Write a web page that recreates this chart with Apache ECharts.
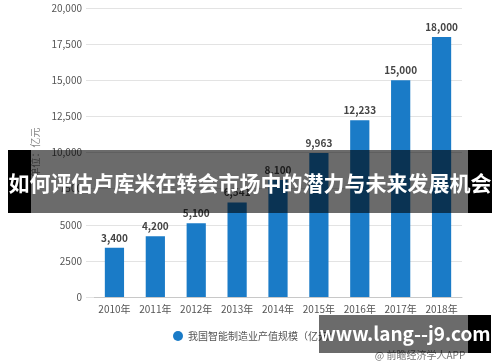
<!DOCTYPE html>
<html><head><meta charset="utf-8">
<script src="https://cdn.jsdelivr.net/npm/echarts@6/dist/echarts.min.js"></script>
<style>html,body{margin:0;padding:0;background:#fff}#c{width:500px;height:362px}</style>
</head><body><div id="c"></div>
<script>
const categories = ['2010年','2011年','2012年','2013年','2014年','2015年','2016年','2017年','2018年'];
const values = [3400, 4200, 5100, 6541, 8100, 9963, 12233, 15000, 18000];
const seriesName = '我国智能制造业产值规模（亿元）';
const yTicks = [0, 2500, 5000, 7500, 10000, 12500, 15000, 17500, 20000];
const overlayTitle = '如何评估卢库米在转会市场中的潜力与未来发展机会';
const overlayUrl = 'www.lang--j9.com';
const sourceText = '@ 前瞻经济学人APP';

const font = '"Noto Sans CJK SC", "Noto Sans", sans-serif';
const chart = echarts.init(document.getElementById('c'));
chart.setOption({
  animation: false,
  textStyle: { fontFamily: font },
  grid: { left: 94, right: 38, top: 8, bottom: 65 },
  legend: {
    data: [seriesName], left: 168, top: 326, icon: 'circle',
    itemWidth: 10, itemHeight: 10, itemGap: 6,
    textStyle: { fontSize: 10, color: '#555', fontFamily: font }
  },
  xAxis: {
    type: 'category', data: categories,
    axisLine: { lineStyle: { color: '#c8c8c8' } },
    axisTick: { show: false },
    axisLabel: { fontSize: 10, color: '#555', margin: 7, interval: 0 }
  },
  yAxis: {
    type: 'value', min: 0, max: 20000, interval: 2500,
    name: '单位：亿元', nameLocation: 'middle', nameGap: 50, nameRotate: 90,
    nameTextStyle: { fontSize: 10, color: '#888' },
    axisLine: { show: false },
    axisTick: { show: true, length: 8, lineStyle: { color: '#e3e3e3' } },
    splitLine: { lineStyle: { color: '#e3e3e3' } },
    axisLabel: {
      fontSize: 10, color: '#555', margin: 12,
      formatter: v => v >= 10000 ? v.toLocaleString('en-US') : String(v)
    }
  },
  series: [{
    name: seriesName, type: 'bar', data: values, barWidth: '47%',
    itemStyle: { color: '#1a7bc7' },
    label: {
      show: true, position: 'top', distance: 5, fontSize: 10, fontWeight: 'bold', color: '#444',
      formatter: p => p.value.toLocaleString('en-US')
    }
  }],
  graphic: [
    { type: 'rect', shape: { x: 8, y: 150, width: 23, height: 63 }, style: { fill: '#000' }, z: 100 },
    { type: 'rect', shape: { x: 31, y: 150, width: 437, height: 63 }, style: { fill: 'rgba(0,0,0,0.58)' }, z: 100 },
    { type: 'rect', shape: { x: 468, y: 150, width: 24, height: 63 }, style: { fill: '#000' }, z: 100 },
    { type: 'text', x: 250, y: 183, z: 101,
      style: { text: overlayTitle, fill: '#fff', font: 'bold 21px ' + font, align: 'center', verticalAlign: 'middle' } },
    { type: 'rect', shape: { x: 319, y: 315, width: 149, height: 38 }, style: { fill: 'rgba(0,0,0,0.58)' }, z: 100 },
    { type: 'rect', shape: { x: 468, y: 315, width: 23, height: 38 }, style: { fill: '#000' }, z: 100 },
    { type: 'text', x: 405, y: 334, z: 101,
      style: { text: overlayUrl, fill: '#fff', font: 'bold 19px ' + font, align: 'center', verticalAlign: 'middle' } },
    { type: 'text', x: 420, y: 355, z: 99,
      style: { text: sourceText, fill: '#777', font: '10px ' + font, align: 'center', verticalAlign: 'middle' } }
  ]
});
</script></body></html>
